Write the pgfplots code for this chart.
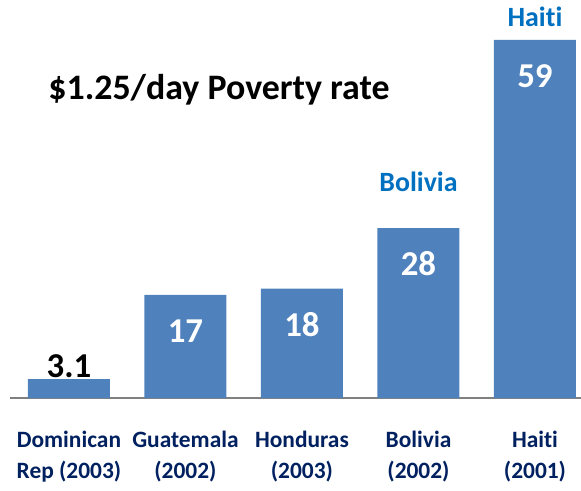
\documentclass[border=0pt]{standalone}
\usepackage{fontspec}
\setmainfont[RawFeature=-liga]{Carlito}
\usepackage{pgfplots}
\pgfplotsset{compat=1.18}
\definecolor{barblue}{HTML}{4F81BD}
\definecolor{navy}{HTML}{002060}
\definecolor{lblblue}{HTML}{0070C0}
\begin{document}
\begin{tikzpicture}
\useasboundingbox (0,0) rectangle (581bp,491bp);
\begin{axis}[
  at={(10bp,93bp)}, anchor=south west,
  scale only axis, width=571bp, height=398bp,
  xmin=-0.506, xmax=4.395, ymin=0, ymax=65.57,
  axis x line*=bottom, hide y axis,
  x axis line style={draw=gray, line width=2.5bp, -},
  xtick=data, major tick length=0pt,
  xticklabels={{Dominican\\Rep (2003)},{Guatemala\\(2002)},{Honduras\\(2003)},{Bolivia\\(2002)},{Haiti\\(2001)}},
  xticklabel style={font=\fontsize{23.5}{31}\selectfont\bfseries, text=navy, align=center, yshift=-30bp},
  clip=false,
]
\addplot[ybar, bar width=0.704, fill=barblue, draw=none] coordinates {(0,3.1) (1,17) (2,18) (3,28) (4,59)};
\node[font=\fontsize{35}{35}\selectfont\bfseries, text=black] at (axis cs:0,3.1) [yshift=13bp] {3.1};
\foreach \xx/\vv in {1/17,2/18,3/28,4/59}{
  \edef\tmp{\noexpand\node[font=\noexpand\fontsize{35}{35}\noexpand\selectfont\noexpand\bfseries, text=white] at (axis cs:\xx,\vv) [yshift=-36bp] {\vv};}\tmp
}
\node[font=\fontsize{28}{28}\selectfont\bfseries, text=lblblue] at (axis cs:3,28) [yshift=46bp] {Bolivia};
\node[font=\fontsize{28}{28}\selectfont\bfseries, text=lblblue] at (axis cs:4,59) [yshift=23bp] {Haiti};
\end{axis}
\node[font=\fontsize{36}{36}\selectfont\bfseries, text=black] at (219bp,401bp) {\$1.25/day Poverty rate};
\end{tikzpicture}
\end{document}
